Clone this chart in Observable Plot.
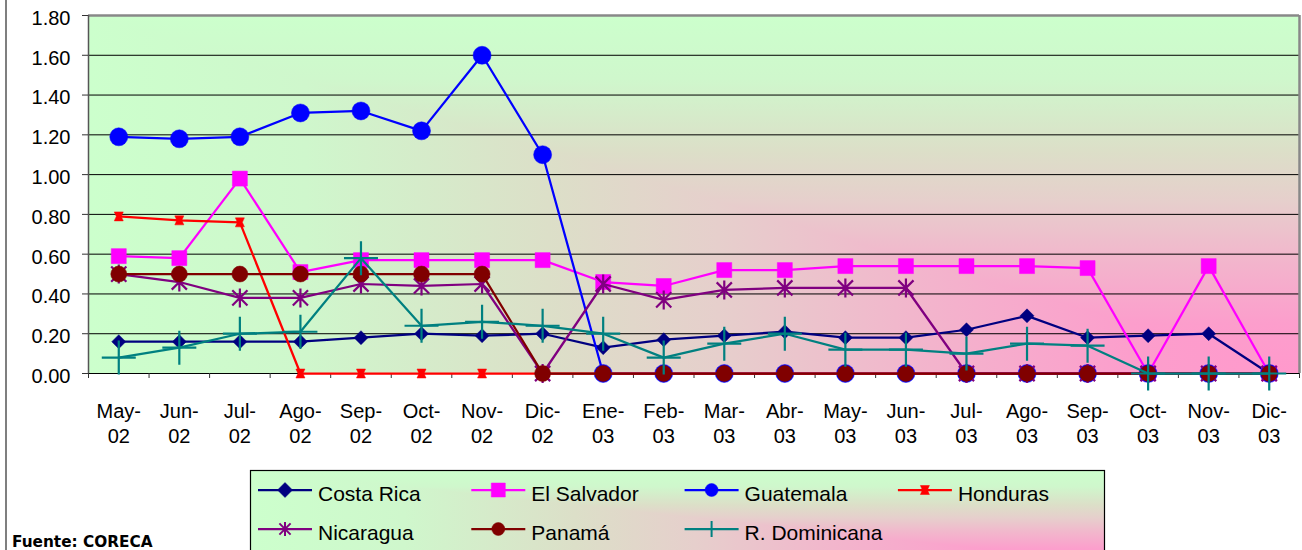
<!DOCTYPE html>
<html>
<head>
<meta charset="utf-8">
<script src="https://cdn.jsdelivr.net/npm/d3@7"></script>
<script src="https://cdn.jsdelivr.net/npm/@observablehq/plot@0.6"></script>
<style>
html, body { margin: 0; padding: 0; background: #fff; overflow: hidden; width: 1302px; height: 550px; }
#wrap { position: relative; width: 1302px; height: 550px; font-family: "Liberation Sans", Arial, sans-serif; }
#chart { position: absolute; left: 0; top: 0; }
#overlay { position: absolute; left: 0; top: 0; pointer-events: none; }
</style>
</head>
<body>
<div id="wrap">
  <div id="chart"></div>
  <svg id="overlay" width="1302" height="550"></svg>
</div>
<script>
// ---------- DATA ----------
const months = ["May-02","Jun-02","Jul-02","Ago-02","Sep-02","Oct-02","Nov-02","Dic-02","Ene-03","Feb-03",
                "Mar-03","Abr-03","May-03","Jun-03","Jul-03","Ago-03","Sep-03","Oct-03","Nov-03","Dic-03"];
const seriesNames = ["Costa Rica","El Salvador","Guatemala","Honduras","Nicaragua","Panamá","R. Dominicana"];
const costaRica   = [0.16,0.16,0.16,0.16,0.18,0.20,0.19,0.20,0.13,0.17,0.19,0.21,0.18,0.18,0.22,0.29,0.18,0.19,0.20,0.00];
const elSalvador  = [0.59,0.58,0.98,0.51,0.57,0.57,0.57,0.57,0.46,0.44,0.52,0.52,0.54,0.54,0.54,0.54,0.53,0.00,0.54,0.00];
const guatemala   = [1.19,1.18,1.19,1.31,1.32,1.22,1.60,1.10,0.00,0.00,0.00,0.00,0.00,0.00,0.00,0.00,0.00,0.00,0.00,0.00];
const honduras    = [0.79,0.77,0.76,0.00,0.00,0.00,0.00,0.00,0.00,0.00,0.00,0.00,0.00,0.00,0.00,0.00,0.00,0.00,0.00,0.00];
const nicaragua   = [0.50,0.46,0.38,0.38,0.45,0.44,0.45,0.00,0.45,0.37,0.42,0.43,0.43,0.43,0.00,0.00,0.00,0.00,0.00,0.00];
const panama      = [0.50,0.50,0.50,0.50,0.50,0.50,0.50,0.00,0.00,0.00,0.00,0.00,0.00,0.00,0.00,0.00,0.00,0.00,0.00,0.00];
const rDominicana = [0.08,0.13,0.20,0.21,0.58,0.24,0.26,0.24,0.20,0.08,0.15,0.20,0.12,0.12,0.10,0.15,0.14,0.00,0.00,0.00];
const yTicks = [0.00,0.20,0.40,0.60,0.80,1.00,1.20,1.40,1.60,1.80];
const sourceText = "Fuente: CORECA";

// ---------- SYMBOLS ----------
const R = s => Math.sqrt(s / Math.PI);
const symDiamond = {draw(c, s){ const r = R(s); c.moveTo(0,-r); c.lineTo(r,0); c.lineTo(0,r); c.lineTo(-r,0); c.closePath(); }};
const symSquare  = {draw(c, s){ const r = R(s); c.moveTo(-r,-r); c.lineTo(r,-r); c.lineTo(r,r); c.lineTo(-r,r); c.closePath(); }};
const symCircle  = {draw(c, s){ const r = R(s); c.moveTo(r,0); c.arc(0,0,r,0,2*Math.PI); c.closePath(); }};
const symBowtie  = {draw(c, s){ const r = R(s); c.moveTo(-r,-r); c.lineTo(r,-r); c.lineTo(r*0.55,0); c.lineTo(r,r); c.lineTo(-r,r); c.lineTo(-r*0.55,0); c.closePath(); }};
const symStar    = {draw(c, s){ const r = R(s), d = r*0.8; c.moveTo(0,-r); c.lineTo(0,r); c.moveTo(-d,-d); c.lineTo(d,d); c.moveTo(-d,d); c.lineTo(d,-d); }};
const symPlus    = {draw(c, s){ const r = R(s); c.moveTo(0,-r); c.lineTo(0,r); c.moveTo(-r,0); c.lineTo(r,0); }};

const series = [
  {name: seriesNames[0], values: costaRica,   color: "#000080", symbol: symDiamond, r: 7,   lr: 7.5, filled: true},
  {name: seriesNames[1], values: elSalvador,  color: "#ff00ff", symbol: symSquare,  r: 7.5, lr: 7,   filled: true},
  {name: seriesNames[2], values: guatemala,   color: "#0000ff", symbol: symCircle,  r: 9,   lr: 6.5, filled: true},
  {name: seriesNames[3], values: honduras,    color: "#ff0000", symbol: symBowtie,  r: 4.5, lr: 4.5, filled: true},
  {name: seriesNames[4], values: nicaragua,   color: "#800080", symbol: symStar,    r: 9.5, lr: 7,   filled: false},
  {name: seriesNames[5], values: panama,      color: "#800000", symbol: symCircle,  r: 8,   lr: 6.5, filled: true},
  {name: seriesNames[6], values: rDominicana, color: "#008080", symbol: symPlus,    r: 17,  lr: 8,   filled: false}
];

// ---------- GRADIENT ("from corner", pink at bottom-right) ----------
const gradStops = [[0,"#ccffcc"],[0.18,"#cff7cc"],[0.38,"#dcdfc8"],[0.52,"#e6cfcc"],[0.68,"#f2b6cc"],[0.86,"#fc9ecc"],[1,"#ff99cc"]];
function cornerGradient(g, id, x0, y0, x1, y1) {
  const defs = g.append("defs");
  const h = defs.append("linearGradient").attr("id", id + "h").attr("x1", 0).attr("y1", 0).attr("x2", 1).attr("y2", 0);
  const v = defs.append("linearGradient").attr("id", id + "v").attr("x1", 0).attr("y1", 0).attr("x2", 0).attr("y2", 1);
  for (const [o, c] of gradStops) {
    h.append("stop").attr("offset", o).attr("stop-color", c);
    v.append("stop").attr("offset", o).attr("stop-color", c);
  }
  g.append("rect").attr("x", x0).attr("y", y0).attr("width", x1 - x0).attr("height", y1 - y0).attr("fill", `url(#${id}h)`);
  g.append("path").attr("d", `M${x0},${y0}L${x1},${y0}L${x1},${y1}Z`).attr("fill", `url(#${id}v)`);
}

function background(index, scales) {
  const g = d3.create("svg:g");
  const x0 = scales.x(-0.5), x1 = scales.x(months.length - 0.5);
  const y0 = scales.y(yTicks[yTicks.length - 1]), y1 = scales.y(0);
  cornerGradient(g, "plotbg", x0, y0, x1, y1);
  return g.node();
}

// ---------- PLOT ----------
const idx = months.map((_, i) => i);
const bounds = months.map((_, i) => i - 0.5).concat([months.length - 0.5]);
const yMax = yTicks[yTicks.length - 1];

const seriesMarks = series.flatMap(s => {
  const rows = s.values.map((v, i) => ({i, v}));
  return [
    Plot.line(rows, {x: "i", y: "v", stroke: s.color, strokeWidth: 2.25}),
    Plot.dot(rows, {x: "i", y: "v", symbol: s.symbol, r: s.r,
      fill: s.filled ? s.color : "none", stroke: s.color, strokeWidth: s.filled ? 0.5 : 2.2})
  ];
});

const plot = Plot.plot({
  width: 1302, height: 465,
  marginLeft: 88, marginRight: 3, marginTop: 15, marginBottom: 92,
  style: {fontFamily: "'Liberation Sans', Arial, sans-serif", fontSize: "20px", color: "#000", background: "transparent", overflow: "visible"},
  x: {type: "linear", domain: [-0.5, months.length - 0.5]},
  y: {domain: [0, yMax]},
  marks: [
    background,
    Plot.ruleY(yTicks.filter(d => d < yMax), {stroke: "#000", strokeWidth: 1}),
    Plot.ruleY([yMax], {stroke: "#888", strokeWidth: 2.5}),
    Plot.ruleX([months.length - 0.5], {stroke: "#888", strokeWidth: 2.5}),
    Plot.ruleX([-0.5], {stroke: "#555", strokeWidth: 1.5}),
    Plot.axisY({ticks: yTicks, tickFormat: () => "", tickSize: 6, stroke: "#333", label: null}),
    Plot.axisY({ticks: yTicks, tickFormat: d3.format(".2f"), tickSize: 0, tickPadding: 18, dy: 3, label: null}),
    Plot.axisX({ticks: bounds, tickFormat: () => "", tickSize: 5, stroke: "#333", label: null}),
    Plot.axisX({ticks: idx, tickSize: 0, tickPadding: 27, lineHeight: 1.25, label: null,
      tickFormat: i => { const [a, b] = months[i].split("-"); return a + "-\n" + b; }}),
    ...seriesMarks
  ]
});
document.getElementById("chart").append(plot);

// ---------- LEGEND + FRAME + SOURCE ----------
const ov = d3.select("#overlay");
ov.append("line").attr("x1", 6).attr("x2", 6).attr("y1", 0).attr("y2", 550).attr("stroke", "#555").attr("stroke-width", 1.5);

const lg = ov.append("g").attr("transform", "translate(250,470)");
const LW = 855, LH = 92;
cornerGradient(lg, "legbg", 0, 0, LW, LH);
lg.append("rect").attr("x", 0.5).attr("y", 0.5).attr("width", LW - 1).attr("height", LH).attr("fill", "none").attr("stroke", "#000").attr("stroke-width", 1.2);

series.forEach((s, k) => {
  const col = k % 4, row = Math.floor(k / 4);
  const gx = 8 + col * 213.3, gy = row === 0 ? 20 : 59;
  const e = lg.append("g").attr("transform", `translate(${gx},${gy})`);
  e.append("line").attr("x1", 0).attr("x2", 54).attr("y1", 0).attr("y2", 0).attr("stroke", s.color).attr("stroke-width", 2.25);
  e.append("path").attr("transform", "translate(27,0)")
    .attr("d", d3.symbol(s.symbol, s.lr * s.lr * Math.PI)())
    .attr("fill", s.filled ? s.color : "none").attr("stroke", s.color).attr("stroke-width", s.filled ? 0.5 : 2);
  e.append("text").attr("x", 60).attr("y", 11).attr("font-family", "'Liberation Sans', Arial, sans-serif")
    .attr("font-size", 21).attr("fill", "#000").text(s.name);
});

ov.append("text").attr("x", 12).attr("y", 547).attr("font-family", "'DejaVu Sans', Verdana, sans-serif")
  .attr("font-weight", "bold").attr("font-size", 15.3).attr("fill", "#000").text(sourceText);
</script>
</body>
</html>
